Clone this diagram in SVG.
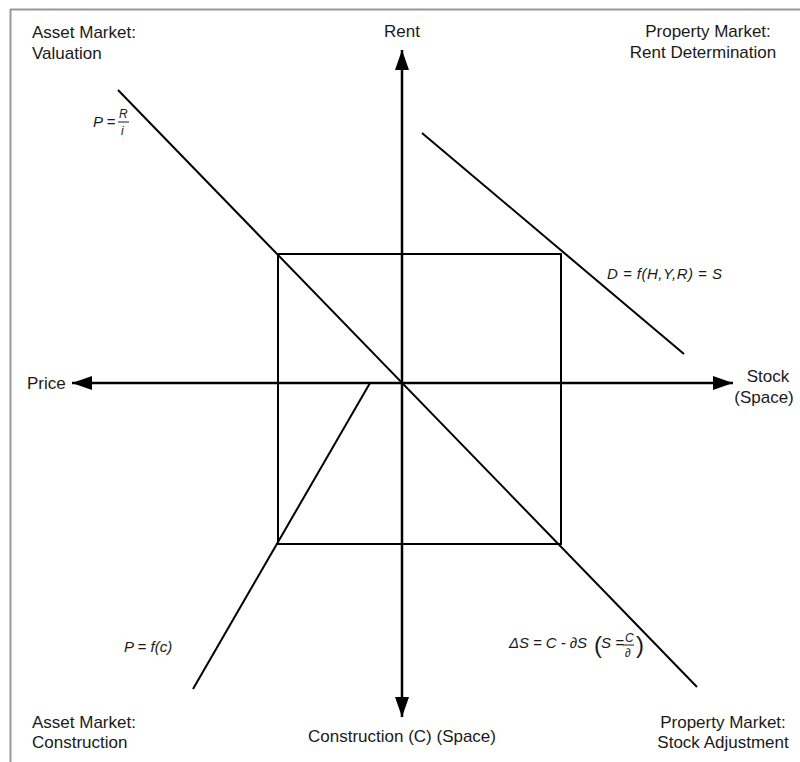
<svg xmlns="http://www.w3.org/2000/svg" width="800" height="762" viewBox="0 0 800 762">
<defs>
<style>
.lbl{font-family:"Liberation Sans",Arial,sans-serif;font-size:17px;fill:#1a1a1a}
.f{font-family:"Liberation Sans",Arial,sans-serif;font-size:15px;font-style:italic;fill:#1a1a1a}
.fs{font-family:"Liberation Sans",Arial,sans-serif;font-size:12px;font-style:italic;fill:#1a1a1a}
.ax{stroke:#000;stroke-width:2.5;fill:none}
.ln{stroke:#000;stroke-width:2;fill:none}
</style>
<marker id="ah" viewBox="0 0 20 14" refX="20" refY="7" markerWidth="20" markerHeight="14" markerUnits="userSpaceOnUse" orient="auto">
<path d="M0,0 L20,7 L0,14 Z" fill="#000"/>
</marker>
</defs>
<rect width="800" height="762" fill="#fff"/>
<g id="frame" stroke="#999" stroke-width="2">
<line x1="10" y1="9.5" x2="800" y2="9.5"/>
<line x1="10.5" y1="9" x2="10.5" y2="762"/>
</g>
<g id="connectors">
<line class="ax" x1="402" y1="383" x2="402" y2="50" marker-end="url(#ah)"/>
<line class="ax" x1="402" y1="383" x2="402" y2="717" marker-end="url(#ah)"/>
<line class="ax" x1="402" y1="383" x2="72" y2="383" marker-end="url(#ah)"/>
<line class="ax" x1="402" y1="383" x2="733" y2="383" marker-end="url(#ah)"/>
<rect class="ln" x="278" y="254" width="283" height="290"/>
<line class="ln" x1="118" y1="90" x2="697" y2="687"/>
<line class="ln" x1="422" y1="133" x2="684" y2="354"/>
<line class="ln" x1="370" y1="383" x2="193" y2="689"/>
</g>
<g id="labels">
<text class="lbl" x="402" y="37" text-anchor="middle">Rent</text>
<text class="lbl" x="32" y="38">Asset Market:</text>
<text class="lbl" x="32" y="59">Valuation</text>
<text class="lbl" x="708" y="37" text-anchor="middle">Property Market:</text>
<text class="lbl" x="703" y="58" text-anchor="middle">Rent Determination</text>
<text class="lbl" x="27" y="389">Price</text>
<text class="lbl" x="768" y="382" text-anchor="middle">Stock</text>
<text class="lbl" x="764" y="403" text-anchor="middle">(Space)</text>
<text class="lbl" x="402" y="742" text-anchor="middle">Construction (C) (Space)</text>
<text class="lbl" x="32" y="728">Asset Market:</text>
<text class="lbl" x="32" y="748">Construction</text>
<text class="lbl" x="723" y="728" text-anchor="middle">Property Market:</text>
<text class="lbl" x="723" y="748" text-anchor="middle">Stock Adjustment</text>
</g>
<g id="formulas">
<text class="f" x="93" y="127">P =</text>
<text class="fs" x="119" y="118">R</text>
<line x1="118" y1="122" x2="129" y2="122" stroke="#1a1a1a" stroke-width="1"/>
<text class="fs" x="121" y="135">i</text>
<text class="f" x="607" y="279" textLength="115">D = f(H,Y,R) = S</text>
<text class="f" x="124" y="652">P = f(c)</text>
<text class="f" x="509" y="648" textLength="78">ΔS = C - ∂S</text>
<text x="594" y="653" font-family="Liberation Sans,sans-serif" font-size="24" fill="#1a1a1a">(</text>
<text class="f" x="601" y="648">S =</text>
<text class="fs" x="625" y="642">C</text>
<line x1="623" y1="645" x2="634" y2="645" stroke="#1a1a1a" stroke-width="1"/>
<text class="fs" x="625" y="657">∂</text>
<text x="636" y="653" font-family="Liberation Sans,sans-serif" font-size="24" fill="#1a1a1a">)</text>
</g>
</svg>
